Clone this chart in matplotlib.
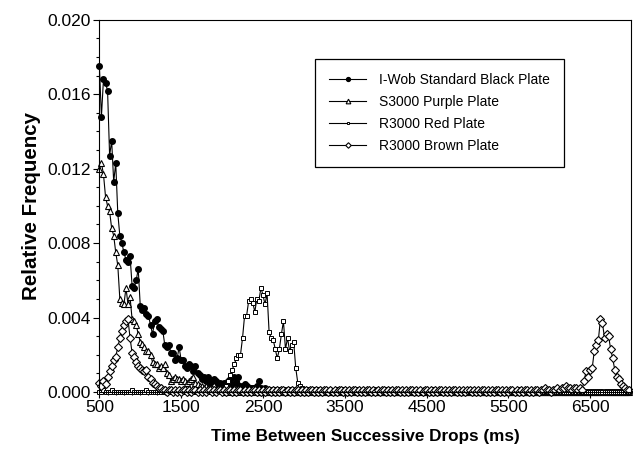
import matplotlib
matplotlib.use("Agg")
import matplotlib.pyplot as plt
import numpy as np
from matplotlib.ticker import MultipleLocator, FixedLocator

plt.rcParams['font.family'] = ['Liberation Sans', 'DejaVu Sans']

# bins of 25 ms, from 500 to 6975 ms
bin_start = 500
bin_width = 25

# relative frequency in units of 1e-4, one row = 20 bins = 500 ms
black_e4 = [
    175, 148, 168, 166, 162, 127, 135, 113, 123, 96, 84, 80, 75, 71, 70, 73, 57, 56, 60, 66,
    46, 44, 45, 42, 41, 36, 31, 38, 39, 35, 34, 33, 25, 24, 25, 21, 21, 17, 18, 24,
    17, 17, 14, 13, 15, 14, 11, 14, 10, 9, 7, 8, 6, 8, 5, 6, 7, 6, 4, 5,
    4, 5, 3, 6, 7, 4, 8, 5, 8, 3, 3, 4, 3, 2, 2, 2, 2, 3, 6, 2,
    1, 2, 1, 1, 0, 1, 1, 0, 1, 1, 0, 1, 0, 1, 1, 0, 1, 0, 1, 0,
    1, 0, 1, 0, 0, 1, 0, 1, 0, 0, 1, 0, 0, 1, 0, 0, 1, 0, 0, 1,
    0, 0, 1, 0, 0, 0, 1, 0, 0, 0, 0, 1, 0, 0, 0, 1, 0, 0, 0, 0,
    1, 0, 0, 0, 0, 0, 1, 0, 0, 0, 0, 0, 0, 1, 0, 0, 0, 0, 0, 0,
    0, 0, 0, 1, 0, 0, 0, 0, 0, 0, 0, 1, 0, 0, 0, 0, 0, 0, 0, 0,
    0, 1, 0, 0, 0, 0, 0, 0, 0, 0, 0, 0, 0, 0, 1, 0, 0, 0, 0, 0,
    0, 0, 0, 0, 0, 1, 0, 0, 0, 0, 0, 0, 0, 0, 0, 0, 0, 1, 0, 0,
    0, 0, 0, 0, 0, 0, 0, 0, 1, 0, 0, 0, 0, 0, 0, 0, 0, 0, 0, 0,
    0, 0, 0, 0, 0, 0, 0, 0, 0, 0, 0, 0, 0, 0, 0, 0, 0, 0, 0, 0,
]
purple_e4 = [
    120, 123, 117, 105, 100, 97, 88, 84, 75, 68, 50, 48, 47, 56, 47, 51, 39, 38, 36, 31,
    27, 26, 24, 22, 22, 20, 16, 15, 15, 13, 14, 13, 15, 10, 9, 6, 7, 8, 7, 7,
    6, 7, 6, 5, 6, 7, 8, 5, 4, 3, 3, 2, 3, 2, 1, 2, 1, 1, 1, 1,
    1, 0, 1, 1, 0, 1, 0, 1, 1, 0, 1, 0, 0, 1, 0, 1, 0, 1, 0, 0,
    0, 1, 0, 0, 1, 0, 0, 0, 1, 0, 0, 0, 0, 1, 0, 0, 0, 0, 1, 0,
    0, 0, 0, 1, 0, 0, 0, 0, 0, 0, 1, 0, 0, 0, 0, 0, 0, 1, 0, 0,
    0, 0, 0, 0, 0, 1, 0, 0, 0, 0, 0, 0, 0, 0, 1, 0, 0, 0, 0, 0,
    0, 0, 1, 0, 0, 0, 0, 0, 0, 0, 0, 0, 0, 0, 0, 0, 0, 0, 1, 0,
    0, 0, 0, 0, 0, 0, 0, 1, 0, 0, 0, 0, 0, 0, 0, 0, 0, 0, 0, 0,
    0, 0, 0, 0, 0, 0, 0, 0, 0, 0, 0, 0, 1, 0, 0, 0, 0, 0, 0, 0,
    0, 0, 0, 0, 0, 0, 0, 0, 0, 0, 0, 0, 0, 0, 0, 0, 0, 0, 0, 0,
    0, 0, 0, 0, 0, 0, 0, 0, 0, 0, 0, 0, 0, 0, 0, 0, 0, 0, 0, 0,
    0, 0, 0, 0, 0, 0, 0, 0, 0, 0, 0, 0, 0, 0, 0, 0, 0, 0, 0, 0,
]
red_e4 = [
    0, 0, 1, 0, 0, 0, 1, 0, 0, 0, 0, 0, 0, 0, 0, 0, 1, 0, 0, 0,
    0, 0, 0, 1, 0, 0, 0, 0, 0, 0, 0, 1, 0, 0, 0, 0, 0, 0, 0, 0,
    0, 1, 0, 0, 0, 1, 0, 0, 0, 1, 0, 1, 0, 1, 0, 1, 1, 1, 2, 2,
    1, 2, 3, 6, 9, 12, 15, 18, 20, 20, 29, 41, 41, 49, 50, 48, 43, 50, 49, 56,
    52, 47, 53, 32, 29, 28, 23, 18, 23, 31, 38, 23, 29, 22, 25, 27, 13, 5, 3, 2,
    1, 1, 0, 1, 1, 0, 1, 0, 1, 0, 0, 1, 0, 0, 1, 0, 0, 0, 1, 0,
    0, 0, 1, 0, 0, 0, 0, 1, 0, 0, 0, 0, 0, 1, 0, 0, 0, 0, 0, 0,
    0, 1, 0, 0, 0, 0, 0, 0, 0, 0, 1, 0, 0, 0, 0, 0, 0, 0, 0, 0,
    0, 0, 0, 0, 0, 1, 0, 0, 0, 0, 0, 0, 0, 0, 0, 0, 1, 0, 0, 0,
    0, 0, 0, 0, 0, 0, 0, 0, 0, 0, 0, 0, 0, 0, 0, 0, 0, 0, 0, 0,
    0, 0, 0, 0, 0, 0, 0, 0, 0, 0, 0, 0, 0, 0, 0, 0, 0, 0, 0, 0,
    0, 0, 0, 0, 0, 0, 0, 0, 0, 0, 0, 0, 0, 0, 0, 0, 0, 0, 0, 0,
    0, 0, 0, 0, 0, 0, 0, 0, 0, 0, 0, 0, 0, 0, 0, 0, 0, 0, 0, 0,
]
brown_e4 = [
    5, 3, 6, 4, 8, 11, 14, 17, 19, 24, 29, 33, 36, 38, 39, 29, 21, 19, 16, 14,
    13, 12, 11, 12, 8, 7, 5, 4, 3, 2, 2, 1, 1, 0, 1, 1, 0, 1, 0, 1,
    0, 1, 1, 0, 1, 0, 1, 1, 0, 1, 0, 1, 0, 1, 1, 0, 1, 0, 1, 1,
    0, 1, 0, 1, 1, 0, 1, 0, 1, 1, 0, 1, 0, 1, 0, 1, 1, 0, 1, 0,
    1, 0, 1, 1, 0, 1, 0, 1, 0, 1, 1, 0, 1, 0, 1, 0, 1, 1, 0, 1,
    0, 1, 0, 1, 1, 0, 1, 0, 1, 0, 1, 1, 0, 1, 0, 1, 0, 1, 1, 0,
    1, 0, 1, 0, 1, 1, 0, 1, 0, 1, 0, 1, 1, 0, 1, 0, 1, 0, 1, 1,
    0, 1, 0, 1, 0, 1, 1, 0, 1, 0, 1, 0, 1, 1, 0, 1, 0, 1, 0, 1,
    1, 0, 1, 0, 1, 0, 1, 1, 0, 1, 0, 1, 0, 1, 1, 0, 1, 0, 1, 0,
    1, 1, 0, 1, 0, 1, 0, 1, 1, 0, 1, 0, 1, 0, 1, 1, 0, 1, 0, 1,
    0, 1, 1, 0, 1, 0, 1, 0, 1, 1, 0, 1, 0, 1, 1, 0, 1, 1, 2, 1,
    1, 0, 1, 1, 2, 1, 2, 2, 3, 2, 2, 1, 2, 2, 1, 2, 1, 6, 11, 8,
    12, 13, 22, 25, 28, 39, 37, 29, 31, 30, 23, 18, 12, 8, 7, 4, 3, 2, 1, 1,
]

labels = ['I-Wob Standard Black Plate', 'S3000 Purple Plate',
          'R3000 Red Plate', 'R3000 Brown Plate']

x = bin_start + bin_width * np.arange(len(black_e4))

fig = plt.figure(figsize=(6.33, 4.51), dpi=100)
ax = fig.add_axes([0.157, 0.131, 0.840, 0.825])

ax.plot(x, np.array(black_e4) * 1e-4, color='black', lw=0.8, marker='o', ms=4,
        mfc='black', mec='black', clip_on=False, label=labels[0])
ax.plot(x, np.array(purple_e4) * 1e-4, color='black', lw=0.8, marker='^', ms=4.8,
        mfc='white', mec='black', mew=0.8, clip_on=False, label=labels[1])
ax.plot(x, np.array(red_e4) * 1e-4, color='black', lw=0.8, marker='s', ms=2.5,
        mfc='white', mec='black', mew=0.7, clip_on=False, label=labels[2])
ax.plot(x, np.array(brown_e4) * 1e-4, color='black', lw=0.8, marker='D', ms=4,
        mfc='white', mec='black', mew=0.8, clip_on=False, label=labels[3])

ax.set_xlim(500, 7000)
ax.set_ylim(0, 0.020)
ax.xaxis.set_major_locator(FixedLocator([500, 1500, 2500, 3500, 4500, 5500, 6500]))
ax.xaxis.set_minor_locator(MultipleLocator(100))
ax.yaxis.set_major_locator(MultipleLocator(0.004))
ax.yaxis.set_minor_locator(MultipleLocator(0.001))
ax.yaxis.set_major_formatter(plt.FuncFormatter(lambda v, p: '%.3f' % v))

ax.tick_params(which='both', direction='out', top=False, right=False,
               labelsize=12.5, width=0.8, color='black')
ax.tick_params(which='major', length=4, pad=2)
ax.tick_params(which='minor', length=2.5)
for s in ax.spines.values():
    s.set_linewidth(0.8)

ax.set_xlabel('Time Between Successive Drops (ms)', fontsize=12.3, fontweight='bold', labelpad=10)
ax.set_ylabel('Relative Frequency', fontsize=14.8, fontweight='bold', labelpad=5)

leg = ax.legend(loc='upper left', bbox_to_anchor=(315 / 633, 1 - 59 / 451),
                bbox_transform=fig.transFigure, borderaxespad=0, fancybox=False,
                edgecolor='black', fontsize=10, handlelength=2.7, handletextpad=0.9,
                labelspacing=0.58, borderpad=1.0, markerscale=0.7, framealpha=1)
leg.get_frame().set_linewidth(0.9)

fig.savefig('out.png', dpi=100)
